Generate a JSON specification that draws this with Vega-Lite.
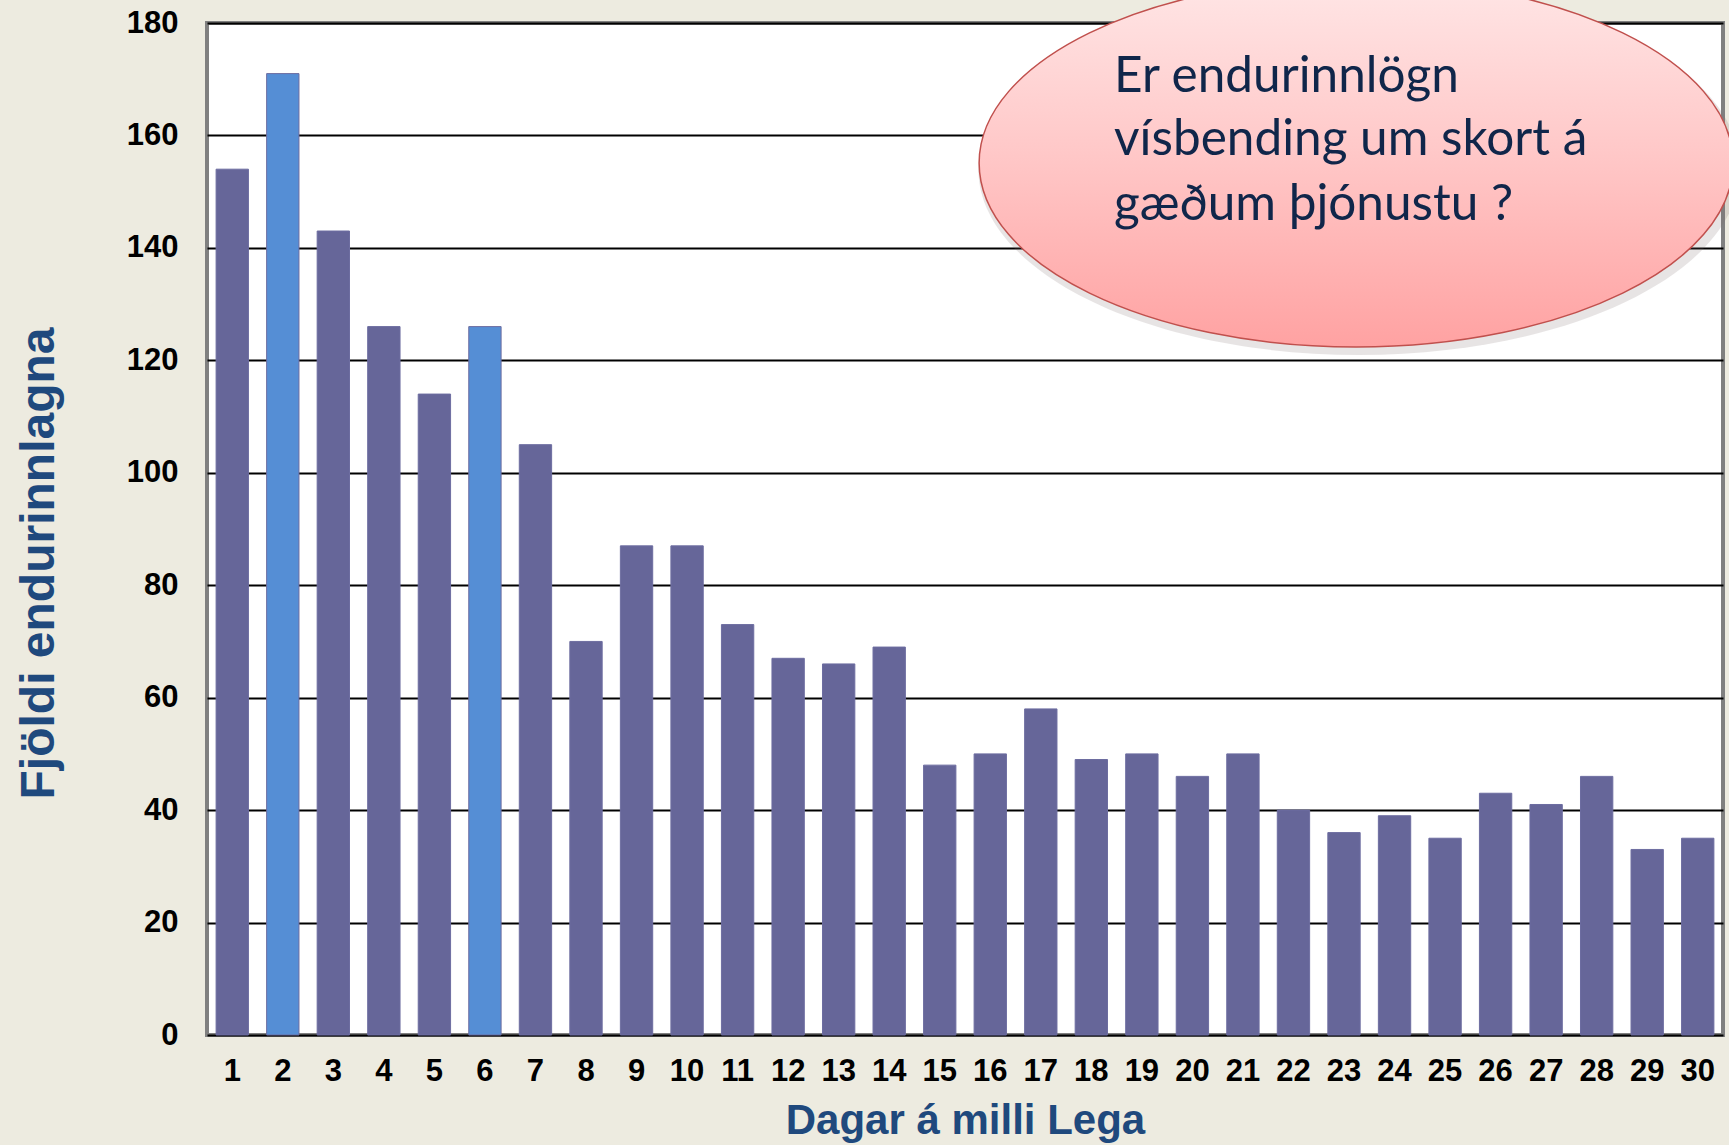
{
  "$schema": "https://vega.github.io/schema/vega-lite/v6.json",
  "width": 1516,
  "height": 1012,
  "autosize": {"type": "none"},
  "padding": {"left": 207, "top": 23, "right": 6, "bottom": 110},
  "background": "#EDEBE0",
  "config": {
    "view": {"fill": "white", "stroke": "#808080", "strokeWidth": 4},
    "font": "Liberation Sans"
  },
  "layer": [
    {
      "data": {
        "values": [
          {"dagar": "1", "fjoldi": 154, "hopur": "a"},
          {"dagar": "2", "fjoldi": 171, "hopur": "b"},
          {"dagar": "3", "fjoldi": 143, "hopur": "a"},
          {"dagar": "4", "fjoldi": 126, "hopur": "a"},
          {"dagar": "5", "fjoldi": 114, "hopur": "a"},
          {"dagar": "6", "fjoldi": 126, "hopur": "b"},
          {"dagar": "7", "fjoldi": 105, "hopur": "a"},
          {"dagar": "8", "fjoldi": 70, "hopur": "a"},
          {"dagar": "9", "fjoldi": 87, "hopur": "a"},
          {"dagar": "10", "fjoldi": 87, "hopur": "a"},
          {"dagar": "11", "fjoldi": 73, "hopur": "a"},
          {"dagar": "12", "fjoldi": 67, "hopur": "a"},
          {"dagar": "13", "fjoldi": 66, "hopur": "a"},
          {"dagar": "14", "fjoldi": 69, "hopur": "a"},
          {"dagar": "15", "fjoldi": 48, "hopur": "a"},
          {"dagar": "16", "fjoldi": 50, "hopur": "a"},
          {"dagar": "17", "fjoldi": 58, "hopur": "a"},
          {"dagar": "18", "fjoldi": 49, "hopur": "a"},
          {"dagar": "19", "fjoldi": 50, "hopur": "a"},
          {"dagar": "20", "fjoldi": 46, "hopur": "a"},
          {"dagar": "21", "fjoldi": 50, "hopur": "a"},
          {"dagar": "22", "fjoldi": 40, "hopur": "a"},
          {"dagar": "23", "fjoldi": 36, "hopur": "a"},
          {"dagar": "24", "fjoldi": 39, "hopur": "a"},
          {"dagar": "25", "fjoldi": 35, "hopur": "a"},
          {"dagar": "26", "fjoldi": 43, "hopur": "a"},
          {"dagar": "27", "fjoldi": 41, "hopur": "a"},
          {"dagar": "28", "fjoldi": 46, "hopur": "a"},
          {"dagar": "29", "fjoldi": 33, "hopur": "a"},
          {"dagar": "30", "fjoldi": 35, "hopur": "a"}
        ]
      },
      "mark": {"type": "bar", "stroke": "#6d6da0", "strokeWidth": 1},
      "encoding": {
        "x": {
          "field": "dagar",
          "type": "ordinal",
          "sort": null,
          "scale": {"paddingInner": 0.36, "paddingOuter": 0.18},
          "axis": {
            "title": "Dagar á milli Lega",
            "titleFontSize": 42,
            "titleFontWeight": "bold",
            "titleColor": "#1F497D",
            "titlePadding": 14,
            "labelAngle": 0,
            "labelFontSize": 31,
            "labelFontWeight": "bold",
            "labelColor": "black",
            "labelPadding": 21,
            "ticks": false,
            "domain": false
          }
        },
        "y": {
          "field": "fjoldi",
          "type": "quantitative",
          "scale": {"domain": [0, 180], "nice": false},
          "axis": {
            "title": "Fjöldi endurinnlagna",
            "titleFontSize": 48,
            "titleFontWeight": "bold",
            "titleColor": "#1F497D",
            "titlePadding": 63,
            "titleY": 540,
            "values": [0, 20, 40, 60, 80, 100, 120, 140, 160, 180],
            "labelFontSize": 31,
            "labelFontWeight": "bold",
            "labelColor": "black",
            "labelPadding": 29,
            "ticks": false,
            "domain": false,
            "grid": true,
            "gridColor": "black",
            "gridWidth": 2
          }
        },
        "color": {
          "field": "hopur",
          "type": "nominal",
          "scale": {"domain": ["a", "b"], "range": ["#666699", "#558ED5"]},
          "legend": null
        }
      }
    },
    {
      "data": {"values": [{"x": 23.3, "y": 154.0}]},
      "mark": {
        "type": "point",
        "shape": "M -1 0 A 1 0.488 0 1 0 1 0 A 1 0.488 0 1 0 -1 0 Z",
        "size": 580000,
        "filled": true,
        "fill": "#7a6a6a",
        "opacity": 0.18,
        "strokeWidth": 0
      },
      "encoding": {
        "x": {"field": "x", "type": "quantitative", "scale": {"domain": [0.5, 30.5]}, "axis": null},
        "y": {"field": "y", "type": "quantitative", "axis": null}
      }
    },
    {
      "data": {"values": [{"x": 23.24, "y": 155.1}]},
      "mark": {
        "type": "point",
        "shape": "M -1 0 A 1 0.488 0 1 0 1 0 A 1 0.488 0 1 0 -1 0 Z",
        "size": 568516,
        "filled": true,
        "opacity": 1,
        "fill": {
          "gradient": "linear",
          "x1": 0, "y1": 0, "x2": 0, "y2": 1,
          "stops": [
            {"offset": 0, "color": "#FFE6E6"},
            {"offset": 0.5, "color": "#FFC6C6"},
            {"offset": 1, "color": "#FFA2A2"}
          ]
        },
        "stroke": "#C0504D",
        "strokeWidth": 1.5
      },
      "encoding": {
        "x": {"field": "x", "type": "quantitative", "scale": {"domain": [0.5, 30.5]}, "axis": null},
        "y": {"field": "y", "type": "quantitative", "axis": null}
      }
    },
    {
      "data": {
        "values": [
          {"x": 18.45, "y": 167.7, "t": "Er endurinnlögn"},
          {"x": 18.45, "y": 156.5, "t": "vísbending um skort á"},
          {"x": 18.45, "y": 145.0, "t": "gæðum þjónustu ?"}
        ]
      },
      "mark": {
        "type": "text",
        "align": "left",
        "baseline": "alphabetic",
        "font": "Lato",
        "fontSize": 49.5,
        "color": "#10264A"
      },
      "encoding": {
        "x": {"field": "x", "type": "quantitative", "scale": {"domain": [0.5, 30.5]}, "axis": null},
        "y": {"field": "y", "type": "quantitative", "axis": null},
        "text": {"field": "t"}
      }
    }
  ],
  "resolve": {"scale": {"x": "independent"}, "axis": {"y": "independent"}}
}
